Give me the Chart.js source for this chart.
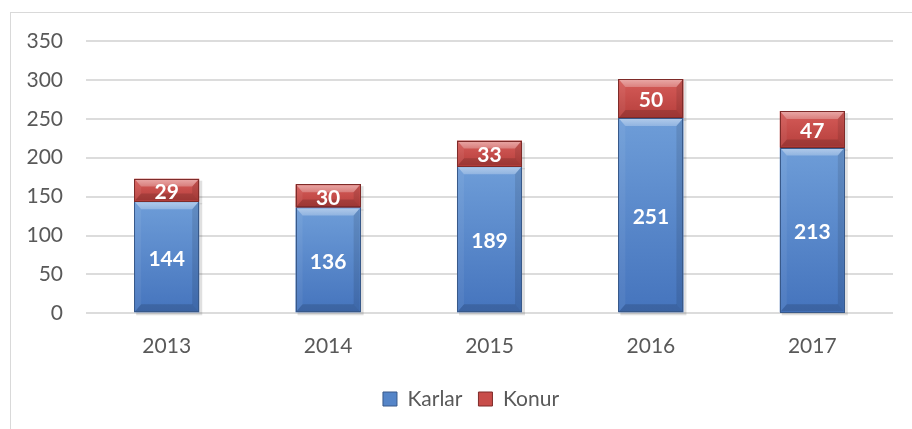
<!DOCTYPE html>
<html><head><meta charset="utf-8">
<script src="https://cdn.jsdelivr.net/npm/chart.js@4/dist/chart.umd.min.js"></script>
<style>
html,body{margin:0;padding:0;background:#fff;overflow:hidden}
#wrap{position:relative;width:912px;height:429px;}
#frame{position:absolute;left:10px;top:12px;width:920px;height:440px;border:1px solid #d9d9d9;box-sizing:border-box;pointer-events:none}
canvas{position:absolute;left:0;top:0}
</style></head><body>
<div id="wrap"><canvas id="c" width="912" height="429"></canvas><div id="frame"></div></div>
<script>
const categories = ['2013', '2014', '2015', '2016', '2017'];
const karlar = [144, 136, 189, 251, 213];
const konur = [29, 30, 33, 50, 47];
const seriesNames = ['Karlar', 'Konur'];
const yMin = 0, yMax = 350, yStep = 50;

const seriesColors = ['#5585C8', '#C84D4A'];
const seriesGrad = [['#6E9DD8', '#4574BD'], ['#D65C59', '#B63F3C']];
const seriesBorders = ['#38598A', '#7E2B29'];
const FONT = 'Lato';

const bevelPlugin = {
  id: 'bevel',
  beforeDatasetsDraw(chart) {
    const ctx = chart.ctx;
    ctx.save();
    chart.data.datasets.forEach((ds, i) => {
      const meta = chart.getDatasetMeta(i);
      meta.data.forEach(bar => {
        const p = bar.getProps(['x', 'y', 'base', 'width'], true);
        ctx.fillStyle = 'rgba(0,0,0,0.12)';
        ctx.fillRect(p.x - p.width / 2 + 2, p.y + 2, p.width + 1, p.base - p.y + 1);
      });
    });
    ctx.restore();
  },
  afterDatasetsDraw(chart) {
    const ctx = chart.ctx;
    ctx.save();
    chart.data.datasets.forEach((ds, i) => {
      const meta = chart.getDatasetMeta(i);
      meta.data.forEach(bar => {
        const p = bar.getProps(['x', 'y', 'base', 'width'], true);
        const L = p.x - p.width / 2, R = p.x + p.width / 2;
        const T = Math.min(p.y, p.base), B = Math.max(p.y, p.base);
        const g = ctx.createLinearGradient(0, T, 0, B);
        g.addColorStop(0, seriesGrad[i][0]);
        g.addColorStop(1, seriesGrad[i][1]);
        ctx.fillStyle = g;
        ctx.fillRect(L, T, R - L, B - T);
        const l = L + 1, r = R - 1, t = T + 1, b = B - 1;
        const bw = 6, bt = Math.min(7, (b - t) / 3);
        const tg = ctx.createLinearGradient(0, t, 0, t + bt);
        tg.addColorStop(0, 'rgba(255,255,255,0.45)');
        tg.addColorStop(1, 'rgba(255,255,255,0.25)');
        ctx.fillStyle = tg;
        ctx.beginPath(); ctx.moveTo(l, t); ctx.lineTo(r, t); ctx.lineTo(r - bw, t + bt); ctx.lineTo(l + bw, t + bt); ctx.closePath(); ctx.fill();
        ctx.fillStyle = 'rgba(255,255,255,0.06)';
        ctx.beginPath(); ctx.moveTo(l, t); ctx.lineTo(l + bw, t + bt); ctx.lineTo(l + bw, b - bt); ctx.lineTo(l, b); ctx.closePath(); ctx.fill();
        ctx.fillStyle = 'rgba(0,0,0,0.10)';
        ctx.beginPath(); ctx.moveTo(r, t); ctx.lineTo(r - bw, t + bt); ctx.lineTo(r - bw, b - bt); ctx.lineTo(r, b); ctx.closePath(); ctx.fill();
        ctx.fillStyle = 'rgba(0,0,0,0.14)';
        ctx.beginPath(); ctx.moveTo(l, b); ctx.lineTo(r, b); ctx.lineTo(r - bw, b - bt); ctx.lineTo(l + bw, b - bt); ctx.closePath(); ctx.fill();
        ctx.strokeStyle = seriesBorders[i];
        ctx.lineWidth = 1;
        ctx.strokeRect(Math.round(L) + 0.5, Math.round(T) + 0.5, Math.round(R - L) - 1, Math.round(B - T) - 1);
      });
    });
    ctx.fillStyle = '#ffffff';
    ctx.font = 'bold 21px ' + FONT;
    ctx.textAlign = 'center';
    ctx.textBaseline = 'middle';
    chart.data.datasets.forEach((ds, i) => {
      const meta = chart.getDatasetMeta(i);
      meta.data.forEach((bar, j) => {
        const p = bar.getProps(['x', 'y', 'base'], true);
        ctx.fillText(String(ds.data[j]), p.x, (p.y + p.base) / 2 + 2);
      });
    });
    ctx.restore();
  }
};

const legendShift = {
  id: 'legendShift',
  afterLayout(chart) {
    if (chart.legend) { chart.legend.left += 11; chart.legend.right += 11; }
  }
};

function draw() {
  new Chart(document.getElementById('c'), {
    type: 'bar',
    data: {
      labels: categories,
      datasets: [
        { label: seriesNames[0], data: karlar, backgroundColor: seriesColors[0], borderColor: seriesBorders[0], borderWidth: 1 },
        { label: seriesNames[1], data: konur, backgroundColor: seriesColors[1], borderColor: seriesBorders[1], borderWidth: 1 }
      ]
    },
    options: {
      responsive: false,
      animation: false,
      devicePixelRatio: 1,
      categoryPercentage: 1,
      barPercentage: 0.403,
      layout: { padding: { top: 41, left: 27, right: 19, bottom: 9.5 } },
      scales: {
        x: {
          stacked: true,
          afterFit(scale) { scale.height -= 6; },
          grid: { display: false, drawTicks: false },
          border: { display: false },
          ticks: { color: '#595959', font: { family: FONT, size: 21 }, padding: 20 }
        },
        y: {
          stacked: true,
          min: yMin, max: yMax,
          afterFit(scale) { scale.width = 59; },
          grid: { color: '#dcdcdc', lineWidth: 2, drawTicks: false },
          border: { display: false },
          ticks: { stepSize: yStep, color: '#595959', font: { family: FONT, size: 21 }, padding: 23 }
        }
      },
      plugins: {
        tooltip: { enabled: false },
        legend: {
          position: 'bottom',
          labels: { color: '#595959', font: { family: FONT, size: 21 }, boxWidth: 14, boxHeight: 14, padding: 16 }
        }
      }
    },
    plugins: [bevelPlugin, legendShift]
  });
}
if (document.fonts && document.fonts.load) {
  Promise.all([document.fonts.load('21px Lato'), document.fonts.load('bold 21px Lato')]).then(draw, draw);
} else draw();
</script>
</body></html>
